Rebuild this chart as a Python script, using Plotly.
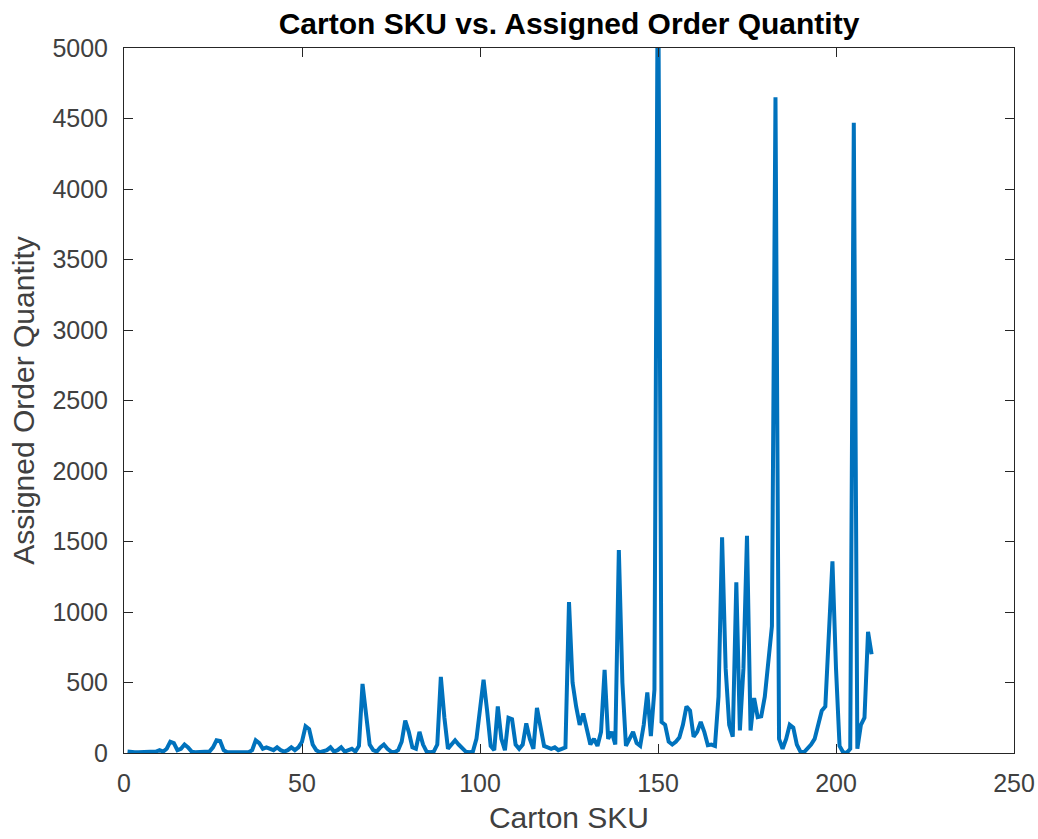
import plotly.graph_objects as go

sku = list(range(1, 211))
qty = [
    10, 5, 5, 5, 5, 5, 5, 5, 10, 20,
    10, 30, 80, 70, 20, 30, 60, 40, 10, 5,
    5, 5, 5, 10, 40, 90, 85, 20, 5, 5,
    5, 5, 10, 5, 5, 20, 90, 70, 30, 40,
    30, 20, 40, 20, 10, 20, 40, 20, 40, 80,
    190, 170, 60, 20, 5, 10, 20, 40, 10, 20,
    40, 10, 20, 30, 10, 50, 490, 300, 60, 20,
    10, 40, 60, 30, 10, 5, 20, 80, 230, 150,
    40, 30, 150, 60, 10, 5, 10, 60, 540, 250,
    30, 60, 90, 60, 30, 10, 5, 10, 100, 300,
    520, 300, 50, 20, 330, 100, 20, 250, 240, 60,
    30, 60, 210, 100, 30, 320, 200, 50, 40, 30,
    40, 20, 30, 40, 1070, 500, 330, 200, 280, 160,
    60, 100, 50, 150, 590, 100, 150, 60, 1440, 500,
    50, 100, 150, 70, 50, 200, 430, 120, 450, 6000,
    220, 200, 80, 60, 80, 110, 200, 330, 300, 115,
    150, 220, 150, 55, 60, 50, 400, 1530, 600, 200,
    115, 1210, 160, 600, 1540, 160, 390, 255, 260, 400,
    680, 900, 4650, 100, 30, 100, 200, 180, 60, 10,
    5, 30, 60, 100, 200, 300, 330, 800, 1360, 600,
    50, 5, 0, 30, 4470, 30, 200, 250, 860, 700,
]

x_ticks = [0, 50, 100, 150, 200, 250]
y_ticks = [0, 500, 1000, 1500, 2000, 2500, 3000, 3500, 4000, 4500, 5000]

FONT = "Liberation Sans, Arial, sans-serif"

fig = go.Figure()
fig.add_trace(go.Scatter(x=sku, y=qty, mode="lines",
                         line=dict(color="#0072BD", width=4),
                         showlegend=False))

axis_common = dict(
    showline=True, linecolor="#262626", linewidth=1, mirror="ticks",
    ticks="inside", ticklen=9, tickwidth=1, tickcolor="#262626",
    showgrid=False, zeroline=False, automargin=False,
    tickfont=dict(family=FONT, size=25, color="#404040"),
)

fig.update_layout(
    width=1038, height=839,
    margin=dict(l=124, r=24, t=48, b=86),
    paper_bgcolor="white", plot_bgcolor="white",
    title=dict(text="<b>Carton SKU vs. Assigned Order Quantity</b>",
               x=(124 + 1014) / 2 / 1038, xanchor="center",
               y=1 - 23 / 839, yanchor="middle",
               font=dict(family=FONT, size=30, color="#000000")),
    xaxis=dict(range=[0, 250], tickvals=x_ticks, ticklabelstandoff=8,
               title=dict(text="Carton SKU", standoff=10,
                          font=dict(family=FONT, size=30, color="#404040")),
               **axis_common),
    yaxis=dict(range=[0, 5000], tickvals=y_ticks, ticklabelstandoff=10,
               title=dict(text="Assigned Order Quantity", standoff=8,
                          font=dict(family=FONT, size=30, color="#404040")),
               **axis_common),
)

fig.write_html("out.html")
